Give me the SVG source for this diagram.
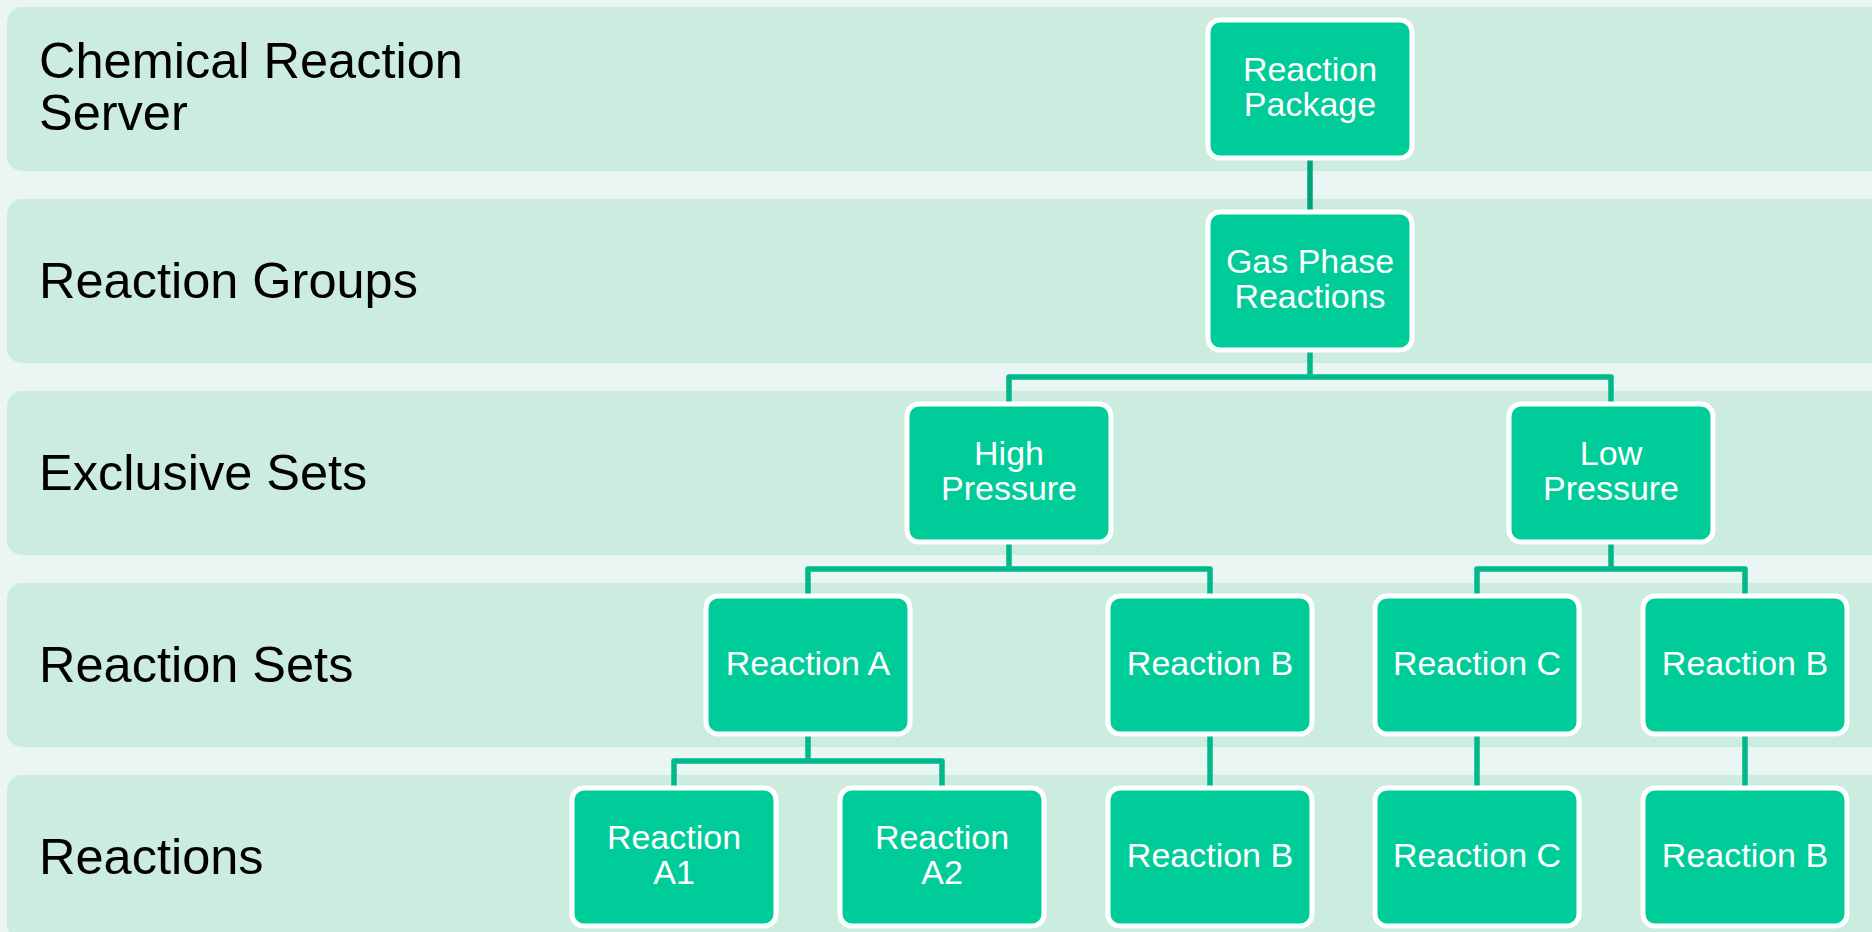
<svg xmlns="http://www.w3.org/2000/svg" width="1872" height="932" viewBox="0 0 1872 932">
<style>
.band{fill:#CCECDF}
.lbl{font-family:"Liberation Sans",Arial,sans-serif;font-size:50.5px;fill:#000}
.box{fill:#00CC99;stroke:#FFFFFF;stroke-width:5}
.bt{font-family:"Liberation Sans",Arial,sans-serif;font-size:34px;fill:#FFFFFF;text-anchor:middle}
.con{fill:none;stroke:#00B88A;stroke-width:5.5;stroke-linejoin:round}
.con0{fill:none;stroke:#00A27C;stroke-width:5.5}
</style>
<rect x="0" y="0" width="1872" height="932" fill="#EAF6F4"/>
<g id="bands">
<rect class="band" x="7" y="7" width="1890" height="164" rx="15"/>
<rect class="band" x="7" y="199" width="1890" height="164" rx="15"/>
<rect class="band" x="7" y="391" width="1890" height="164" rx="15"/>
<rect class="band" x="7" y="583" width="1890" height="164" rx="15"/>
<rect class="band" x="7" y="775" width="1890" height="164" rx="15"/>
</g>
<g id="labels">
<text class="lbl" x="39" y="78">Chemical Reaction</text>
<text class="lbl" x="39" y="130">Server</text>
<text class="lbl" x="39" y="298">Reaction Groups</text>
<text class="lbl" x="39" y="490">Exclusive Sets</text>
<text class="lbl" x="39" y="682">Reaction Sets</text>
<text class="lbl" x="39" y="874">Reactions</text>
</g>
<g id="connectors">
<path class="con0" d="M1310 158 V212"/>
<path class="con" d="M1310 350 V377 M1009 404 V377 H1611 V404"/>
<path class="con" d="M1009 542 V569 M808 596 V569 H1210 V596"/>
<path class="con" d="M1611 542 V569 M1477 596 V569 H1745 V596"/>
<path class="con" d="M808 734 V761 M674 788 V761 H942 V788"/>
<path class="con" d="M1210 734 V788"/>
<path class="con" d="M1477 734 V788"/>
<path class="con" d="M1745 734 V788"/>
</g>
<g id="n-package"><rect class="box" x="1208" y="20" width="204" height="138" rx="12"/><text class="bt" x="1310" y="81">Reaction</text><text class="bt" x="1310" y="116">Package</text></g>
<g id="n-gas"><rect class="box" x="1208" y="212" width="204" height="138" rx="12"/><text class="bt" x="1310" y="273">Gas Phase</text><text class="bt" x="1310" y="308">Reactions</text></g>
<g id="n-high"><rect class="box" x="907" y="404" width="204" height="138" rx="12"/><text class="bt" x="1009" y="465">High</text><text class="bt" x="1009" y="500">Pressure</text></g>
<g id="n-low"><rect class="box" x="1509" y="404" width="204" height="138" rx="12"/><text class="bt" x="1611" y="465">Low</text><text class="bt" x="1611" y="500">Pressure</text></g>
<g id="n-setA"><rect class="box" x="706" y="596" width="204" height="138" rx="12"/><text class="bt" x="808" y="675">Reaction A</text></g>
<g id="n-setB1"><rect class="box" x="1108" y="596" width="204" height="138" rx="12"/><text class="bt" x="1210" y="675">Reaction B</text></g>
<g id="n-setC"><rect class="box" x="1375" y="596" width="204" height="138" rx="12"/><text class="bt" x="1477" y="675">Reaction C</text></g>
<g id="n-setB2"><rect class="box" x="1643" y="596" width="204" height="138" rx="12"/><text class="bt" x="1745" y="675">Reaction B</text></g>
<g id="n-A1"><rect class="box" x="572" y="788" width="204" height="138" rx="12"/><text class="bt" x="674" y="849">Reaction</text><text class="bt" x="674" y="884">A1</text></g>
<g id="n-A2"><rect class="box" x="840" y="788" width="204" height="138" rx="12"/><text class="bt" x="942" y="849">Reaction</text><text class="bt" x="942" y="884">A2</text></g>
<g id="n-rB1"><rect class="box" x="1108" y="788" width="204" height="138" rx="12"/><text class="bt" x="1210" y="867">Reaction B</text></g>
<g id="n-rC"><rect class="box" x="1375" y="788" width="204" height="138" rx="12"/><text class="bt" x="1477" y="867">Reaction C</text></g>
<g id="n-rB2"><rect class="box" x="1643" y="788" width="204" height="138" rx="12"/><text class="bt" x="1745" y="867">Reaction B</text></g>
</svg>
